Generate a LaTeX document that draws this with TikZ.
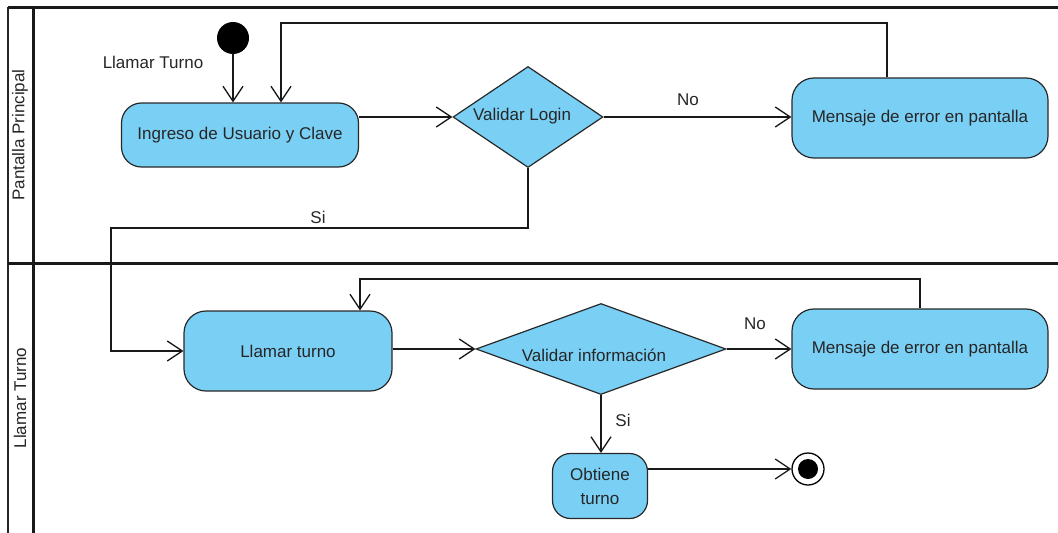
\documentclass[tikz,border=0pt]{standalone}
\usepackage{fontspec}
\setmainfont{Liberation Sans}
\usetikzlibrary{shapes.geometric,arrows.meta}
\definecolor{actfill}{RGB}{122,207,245}
\definecolor{actline}{RGB}{40,40,40}
\tikzset{
  every node/.style={font=\fontsize{17}{20}\selectfont, text=black!85},
  activity/.style={draw=actline, line width=1.2pt, fill=actfill, rounded corners=#1, inner sep=0pt, align=center},
  decision/.style={diamond, draw=actline, line width=1.2pt, fill=actfill, inner sep=0pt},
  flow/.style={draw=black!90, line width=1.3pt, -{Straight Barb[length=15pt,width=20pt,line width=1.3pt]}},
  frameline/.style={draw=black!90, line width=3pt},
  lanelabel/.style={rotate=90, anchor=center}
}
\begin{document}
\begin{tikzpicture}[x=1pt,y=-1pt]
\useasboundingbox (0,0) rectangle (1058,533);

% swimlane frame
\draw[frameline] (8,7) -- (1058,7);
\draw[black!85, line width=2.4pt] (8,7) -- (8,533);
\draw[frameline] (33,7) -- (33,533);
\draw[frameline] (8,263) -- (1058,263);
\node[lanelabel] (lane1) at (20,135) {Pantalla Principal};
\node[lanelabel] (lane2) at (20,398) {Llamar Turno};

% upper lane
\node[circle, fill=black, minimum size=32pt, inner sep=0pt] (init) at (233,38) {};
\node (initlbl) at (153,62) {Llamar Turno};
\node[activity=20pt, minimum width=237pt, minimum height=64pt] (ingreso) at (240,135) {Ingreso de Usuario y Clave};
\node[decision, minimum width=150pt, minimum height=101pt] (login) at (528,117) {};
\node (loginlbl) at (522,116) {Validar Login};
\node[activity=22pt, minimum width=256pt, minimum height=80pt] (msg1) at (920,118) {Mensaje de error en pantalla};

% lower lane
\node[activity=22pt, minimum width=208pt, minimum height=80pt] (turno) at (288,351) {Llamar turno};
\node[decision, minimum width=250pt, minimum height=91pt] (val) at (601,349) {};
\node (vallbl) at (594,355) {Validar información};
\node[activity=22pt, minimum width=256pt, minimum height=80pt] (msg2) at (920,349) {Mensaje de error en pantalla};
\node[activity=18pt, minimum width=95pt, minimum height=65pt, text width=90pt] (obt) at (600,486) {Obtiene\\[4pt]turno};
\node[circle, draw=black, line width=1.3pt, fill=white, minimum size=32pt, inner sep=0pt] (fin) at (808,469) {};
\node[circle, fill=black, minimum size=20pt, inner sep=0pt] (finin) at (fin) {};

% loop and branch points
\coordinate (l1a) at (887,23);
\coordinate (l1b) at (281,23);
\coordinate (sia) at (111,228);
\coordinate (l2a) at (920,279);
\coordinate (l2b) at (360,279);

% connectors
\draw[flow] (init) -- (init |- ingreso.north);
\draw[flow] (msg1.north -| l1a) -- (l1a) -- (l1b) -- (l1b |- ingreso.north);
\draw[flow] (ingreso.east |- login.west) -- (login.west);
\draw[flow] (login.east) -- (msg1.west |- login.east);
\draw[flow] (login.south) |- (sia) |- (turno.west);
\draw[flow] (turno.east |- val.west) -- (val.west);
\draw[flow] (val.east) -- (msg2.west |- val.east);
\draw[flow] (msg2.north -| l2a) -- (l2a) -- (l2b) -- (l2b |- turno.north);
\draw[flow] (val.south) -- (obt.north -| val.south);
\draw[flow] (obt.east |- fin.west) -- (fin.west);

% guard labels
\node (no1) at (688,100) {No};
\node (si1) at (318,217) {Si};
\node (no2) at (755,324) {No};
\node (si2) at (623,420) {Si};
\end{tikzpicture}
\end{document}
